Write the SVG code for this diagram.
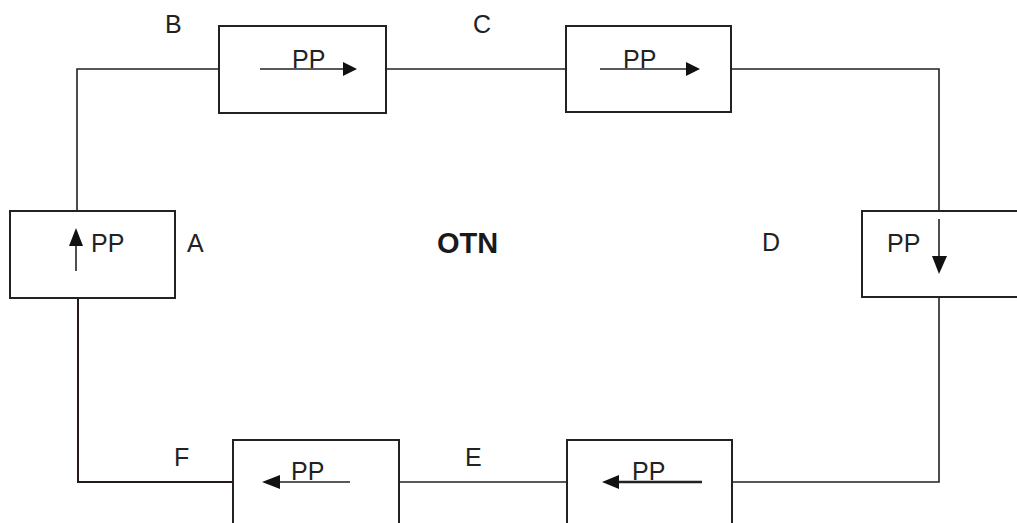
<svg xmlns="http://www.w3.org/2000/svg" width="1017" height="523" viewBox="0 0 1017 523">
<style>
.box{fill:#fff;stroke:#222;stroke-width:2}
.wire{fill:none;stroke:#222;stroke-width:1.6}
.arr{fill:none;stroke:#222;stroke-width:1.6}
.head{fill:#111}
.t{font-family:"Liberation Sans",Arial,sans-serif;font-size:25px;fill:#222}
.pp{font-family:"Liberation Sans",Arial,sans-serif;font-size:25px;fill:#222}
.otn{font-family:"Liberation Sans",Arial,sans-serif;font-size:29px;font-weight:bold;fill:#1a1a1a}
</style>
<rect width="1017" height="523" fill="#fff"/>
<g id="connectors">
<path class="wire" d="M219,69 H77 V211"/>
<path class="wire" d="M386,69 H566"/>
<path class="wire" d="M731,69 H939 V211"/>
<path class="wire" d="M939,297 V482 H732"/>
<path class="wire" d="M567,482 H399"/>
<path class="wire" d="M233,482 H78 V298" style="stroke:#2a1818;stroke-width:2"/>
</g>
<g id="node-top-left">
<rect class="box" x="219" y="26" width="167" height="87"/>
<text class="pp" x="292" y="68">PP</text>
<line class="arr" x1="260" y1="69" x2="346" y2="69"/>
<polygon class="head" points="357,69 343,62 343,76"/>
</g>
<g id="node-top-right">
<rect class="box" x="566" y="26" width="165" height="86"/>
<text class="pp" x="623" y="68">PP</text>
<line class="arr" x1="600" y1="69" x2="689" y2="69"/>
<polygon class="head" points="700,69 686,62 686,76"/>
</g>
<g id="node-a">
<rect class="box" x="10" y="211" width="165" height="87"/>
<text class="pp" x="91" y="252">PP</text>
<line class="arr" x1="76" y1="271" x2="76" y2="240"/>
<polygon class="head" points="76,228 69,246 83,246"/>
</g>
<g id="node-d">
<rect class="box" x="862" y="211" width="170" height="86"/>
<text class="pp" x="887" y="252">PP</text>
<line class="arr" x1="939" y1="219" x2="939" y2="262"/>
<polygon class="head" points="939,274 932,256 947,256"/>
</g>
<g id="node-bottom-left">
<rect class="box" x="233" y="440" width="166" height="100"/>
<text class="pp" x="291" y="480">PP</text>
<line class="arr" x1="350" y1="482" x2="273" y2="482"/>
<polygon class="head" points="262,482 280,475 280,489"/>
</g>
<g id="node-bottom-right">
<rect class="box" x="567" y="440" width="165" height="100"/>
<text class="pp" x="632" y="480">PP</text>
<line class="arr" x1="702" y1="482" x2="612" y2="482" style="stroke-width:2.4"/>
<polygon class="head" points="602,482 619,475 619,489"/>
</g>
<g id="labels">
<text class="t" x="165" y="33">B</text>
<text class="t" x="473" y="33">C</text>
<text class="t" x="187" y="252">A</text>
<text class="otn" x="437" y="253">OTN</text>
<text class="t" x="762" y="251">D</text>
<text class="t" x="174" y="466">F</text>
<text class="t" x="465" y="466">E</text>
</g>
</svg>
